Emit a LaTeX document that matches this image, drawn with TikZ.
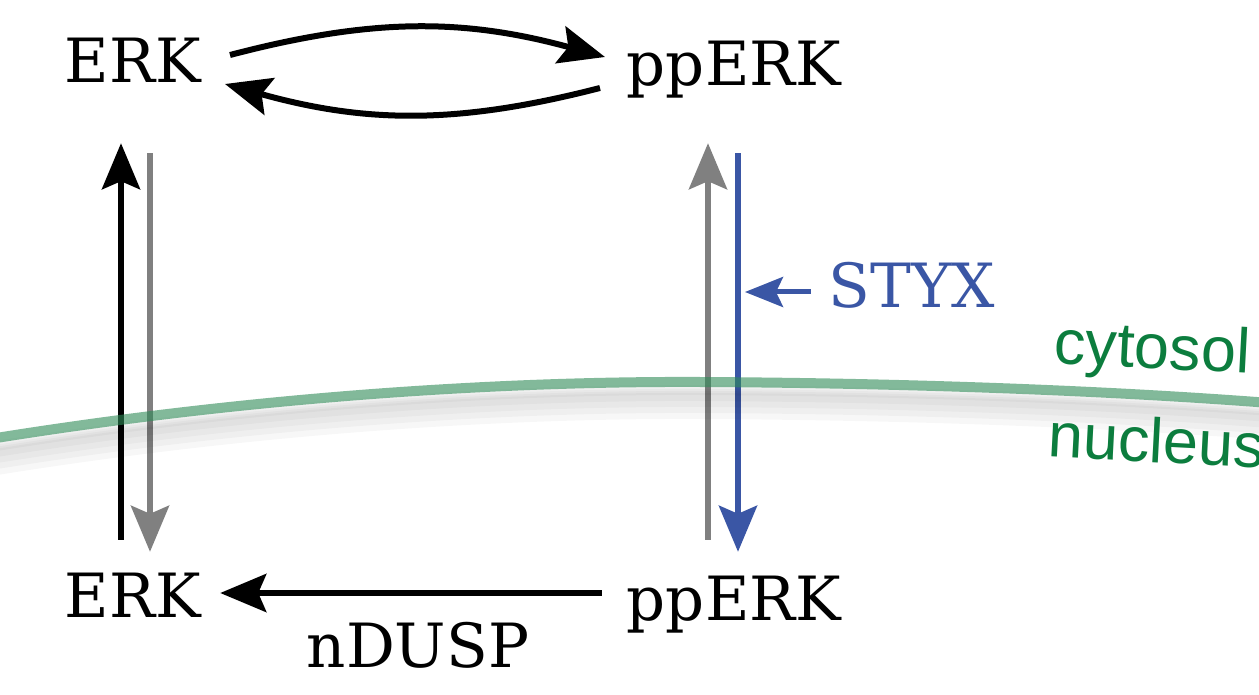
\documentclass[tikz,border=0pt]{standalone}
\usepackage{fontspec}
\setmainfont{DejaVu Serif}
\newfontfamily\compfont{Liberation Sans}
\usetikzlibrary{arrows.meta}
\definecolor{styxblue}{RGB}{58,86,165}
\definecolor{membrane}{RGB}{46,139,87}
\definecolor{compgreen}{RGB}{12,125,62}
\definecolor{revgray}{RGB}{128,128,128}

\begin{document}
\begin{tikzpicture}[x=1pt,y=-1pt,
  mol/.style={font=\fontsize{61}{61}\selectfont, inner sep=0pt, text height=45pt, text depth=15pt},
  react/.style={line width=6pt, -{Stealth[length=46pt,width=38pt,inset=8pt]}},
  compart/.style={font=\compfont\fontsize{63}{63}\selectfont, text=compgreen, rotate=-3, inner sep=0pt}]
  \useasboundingbox (0,0) rectangle (1259,695);
  \clip (0,0) rectangle (1259,695);

  % Species
  \node[mol] (erkc) at (133,68) {ERK};
  \node[mol] (pperkc) at (734,71) {ppERK};
  \node[mol] (erkn) at (133,602) {ERK};
  \node[mol] (pperkn) at (734,605) {ppERK};
  \node[mol, text=styxblue] (styx) at (912,292) {STYX};
  \node[mol] (ndusp) at (418,652) {nDUSP};
  \coordinate (styxhit) at (745,292);

  % Cytosolic phosphorylation cycle
  \draw[react] ([xshift=97pt,yshift=13pt]erkc.center) to[bend left=15] ([xshift=-129pt,yshift=14pt]pperkc.center);
  \draw[react] ([xshift=-134pt,yshift=-17pt]pperkc.center) to[bend left=15] ([xshift=92pt,yshift=-16pt]erkc.center);

  % Transport across the nuclear envelope
  \draw[react, shorten <=32pt, shorten >=45pt] ([xshift=-12pt]erkn.north) -- ([xshift=-12pt]erkc.south);
  \draw[react, revgray, shorten <=55pt, shorten >=20pt] ([xshift=17pt]erkc.south) -- ([xshift=17pt]erkn.north);
  \draw[react, revgray, shorten <=35pt, shorten >=42pt] ([xshift=-26pt]pperkn.north) -- ([xshift=-26pt]pperkc.south);
  \draw[react, styxblue, shorten <=52pt, shorten >=23pt] ([xshift=4pt]pperkc.south) -- ([xshift=4pt]pperkn.north);

  % STYX and nuclear dephosphorylation
  \draw[styxblue, line width=5pt, -{Stealth[length=38pt,width=30pt,inset=7pt]}, shorten <=18pt] (styx.west) -- (styxhit);
  \draw[react, shorten <=25pt, shorten >=19pt] ([yshift=12pt]pperkn.west) -- ([yshift=9pt]erkn.east);

  % Nuclear envelope with soft shadow
  \foreach \dy/\lw in {8/10, 12/14, 16/18, 20/22, 24/26}
    \draw[black, opacity=0.03, line width=\lw pt]
      (-10,439+\dy) .. controls (250,397+\dy) and (500,381+\dy) .. (700,382+\dy)
      .. controls (900,383+\dy) and (1100,390+\dy) .. (1270,403+\dy);
  \draw[membrane, opacity=0.6, line width=10pt]
    (-10,439) .. controls (250,397) and (500,381) .. (700,382)
    .. controls (900,383) and (1100,390) .. (1270,403);

  % Compartments
  \node[compart] (cytosol) at (1152,352) {cytosol};
  \node[compart] (nucleus) at (1157,440) {nucleus};
\end{tikzpicture}
\end{document}
